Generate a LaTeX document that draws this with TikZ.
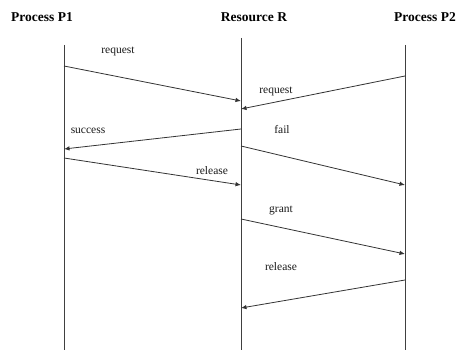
\documentclass[tikz,border=0pt]{standalone}
\usepackage{fontspec}
\setmainfont{Liberation Serif}
\usetikzlibrary{arrows.meta}
\begin{document}
\begin{tikzpicture}[x=1pt,y=-1pt,
  life/.style={draw=black!75, line width=0.9pt},
  msg/.style={draw=black!80, line width=0.8pt, -{Latex[length=5.5pt,width=4.5pt]}},
  head/.style={font=\fontsize{13.5}{15}\selectfont\bfseries, inner sep=0pt},
  lbl/.style={font=\fontsize{11.5}{13}\selectfont, inner sep=0pt, text=black!90}]
\useasboundingbox (0,0) rectangle (460,350);
% headers
\node[head] (h1) at (42,17) {Process P1};
\node[head] (h2) at (254,17) {Resource R};
\node[head] (h3) at (425,17) {Process P2};
% lifeline ends
\coordinate (p1t) at (64,45);  \coordinate (p1b) at (64,350);
\coordinate (rt) at (241,38);  \coordinate (rb) at (241,350);
\coordinate (p2t) at (405,45); \coordinate (p2b) at (405,350);
\draw[life] (p1t) -- (p1b);
\draw[life] (rt) -- (rb);
\draw[life] (p2t) -- (p2b);
% message points
\coordinate (a1) at (64,66);  \coordinate (b1) at (241,101);
\coordinate (a2) at (405,76); \coordinate (b2) at (241,109);
\coordinate (a3) at (241,129); \coordinate (b3) at (64,149);
\coordinate (a4) at (241,146); \coordinate (b4) at (405,185);
\coordinate (a5) at (64,158); \coordinate (b5) at (241,185);
\coordinate (a6) at (241,219); \coordinate (b6) at (405,254);
\coordinate (a7) at (405,280); \coordinate (b7) at (241,308);
\draw[msg] (a1) -- (b1);
\draw[msg] (a2) -- (b2);
\draw[msg] (a3) -- (b3);
\draw[msg] (a4) -- (b4);
\draw[msg] (a5) -- (b5);
\draw[msg] (a6) -- (b6);
\draw[msg] (a7) -- (b7);
% labels
\node[lbl] (l1) at (118,51) {request};
\node[lbl] (l2) at (276,91) {request};
\node[lbl] (l3) at (88,131) {success};
\node[lbl] (l4) at (282,130) {fail};
\node[lbl] (l5) at (212,171) {release};
\node[lbl] (l6) at (281,211) {grant};
\node[lbl] (l7) at (281,267) {release};
\end{tikzpicture}
\end{document}
